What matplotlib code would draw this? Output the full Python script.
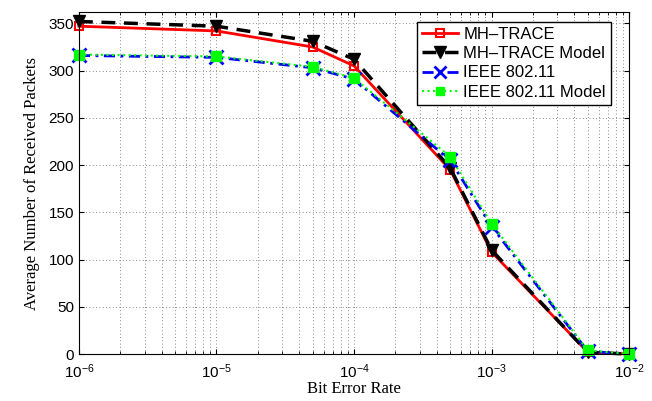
import matplotlib.pyplot as plt
from matplotlib.ticker import LogLocator, NullFormatter

ber = [1e-6, 1e-5, 5e-5, 1e-4, 5e-4, 1e-3, 5e-3, 1e-2]
mh_trace = [347, 342, 325, 305, 195, 108, 2, 0]
mh_model = [352, 347, 331, 312, 197, 110, 2, 0]
ieee = [316, 314, 303, 291, 205, 135, 3, 0]
ieee_model = [317, 315, 304, 292, 209, 138, 4, 0]

plt.rcParams['font.family'] = 'Liberation Sans'
fig = plt.figure(figsize=(6.52, 4.01), dpi=100)
ax = fig.add_axes([0.121, 0.117, 0.844, 0.853])

ax.plot(ber, mh_trace, color='red', lw=2, marker='s', ms=6, mfc='none',
        mew=1.5, label='MH\u2013TRACE', clip_on=False)
ax.plot(ber, mh_model, color='black', lw=2.5, ls=(0, (4, 2.5)), marker='v',
        ms=9, mfc='black', label='MH\u2013TRACE Model', clip_on=False)
ax.plot(ber, ieee, color='blue', lw=2, ls=(0, (4, 2, 1, 2)), marker='x',
        ms=10, mew=2, label='IEEE 802.11', clip_on=False)
ax.plot(ber, ieee_model, color='#00ff00', lw=1.5, ls=':', marker='s',
        ms=7, mfc='#00ff00', mec='#00ff00', label='IEEE 802.11 Model',
        clip_on=False)

ax.set_xscale('log')
ax.set_xlim(1e-6, 1e-2)
ax.set_ylim(0, 362)
ax.set_yticks(range(0, 351, 50))
ax.xaxis.set_minor_locator(LogLocator(base=10, subs=range(2, 10)))
ax.xaxis.set_minor_formatter(NullFormatter())
ax.grid(True, which='both', color='#666666', ls=(0, (1, 3)), lw=0.6)
ax.tick_params(which='both', direction='in', top=True, right=True, labelsize=11)
ax.tick_params(axis='x', pad=6)

ax.set_xlabel('Bit Error Rate', family='Liberation Serif', fontsize=12, labelpad=0)
ax.set_ylabel('Average Number of Received Packets', family='Liberation Serif',
              fontsize=12, labelpad=6)

leg = ax.legend(loc='upper right', fontsize=12, fancybox=False, framealpha=1,
                edgecolor='black', handlelength=2.2, borderpad=0.3,
                labelspacing=0.25, handletextpad=0.3, markerscale=0.9,
                bbox_to_anchor=(0.982, 0.995))
leg.get_frame().set_linewidth(1)

fig.savefig('out.png')
